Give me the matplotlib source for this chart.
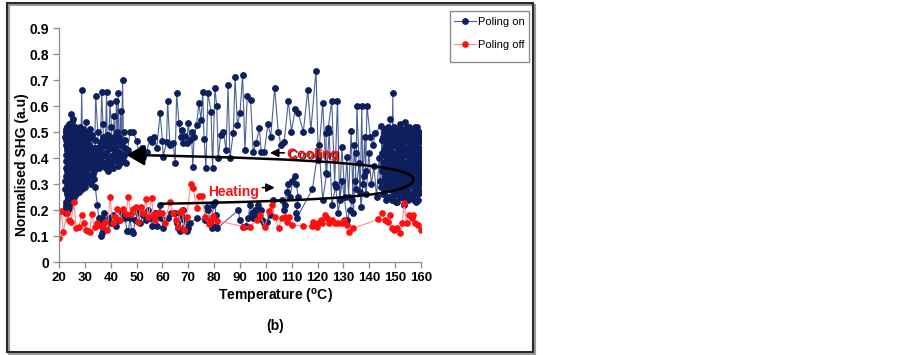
import matplotlib
matplotlib.use('Agg')
import matplotlib.pyplot as plt
from matplotlib.path import Path
from matplotlib.patches import FancyArrowPatch, Rectangle
import matplotlib.patheffects as pe

plt.rcParams['font.family'] = 'Liberation Sans'
plt.rcParams['mathtext.fontset'] = 'custom'
plt.rcParams['mathtext.rm'] = 'Liberation Sans'
plt.rcParams['mathtext.bf'] = 'Liberation Sans:bold'

# ---- Poling on : (temperature degC, normalised SHG) in measuring order ----
# heating, dwell at room temperature
on_heat_start = [(22.4, .31), (22.5, .48), (22.5, .20), (22.6, .50), (22.7, .19), (22.8, .51),
                 (22.9, .22), (23.0, .47), (23.0, .26), (23.1, .52), (23.2, .21), (23.3, .49),
                 (23.4, .24), (23.4, .51), (23.5, .23), (23.6, .45), (23.7, .27), (23.8, .53),
                 (23.9, .22), (24.0, .50), (24.1, .28), (24.2, .49), (24.3, .25), (24.4, .52),
                 (24.5, .30), (24.6, .57), (24.7, .24), (24.8, .48), (24.9, .29), (25.0, .51),
                 (25.1, .26), (25.3, .55), (25.4, .31), (25.6, .49), (25.7, .25), (25.9, .52),
                 (26.0, .30), (26.2, .47), (26.3, .27), (26.5, .50), (26.7, .28), (26.9, .46),
                 (27.1, .31), (27.3, .49), (27.5, .29), (27.8, .51), (28.0, .32), (28.3, .48),
                 (28.5, .28), (28.8, .44), (29.1, .30), (29.4, .47), (29.7, .33), (30.0, .45),
                 (30.4, .31), (30.8, .42), (31.2, .33), (31.7, .40), (32.2, .30), (32.8, .37),
                 (33.4, .32), (34.0, .29), (34.8, .22), (35.4, .17)]
# heating, lower band
on_heat_band = [(35.9, .16), (36.2, .10), (36.5, .11), (36.8, .17), (37.1, .14), (37.5, .19),
                (38.3, .13), (39.2, .17), (40.0, .15), (41.0, .18), (42.0, .14), (43.2, .16),
                (44.5, .19), (45.5, .17), (46.3, .12), (46.8, .12), (47.5, .17), (48.1, .12),
                (48.6, .11), (49.5, .16), (50.5, .19), (51.5, .15), (52.5, .18), (53.5, .16),
                (54.5, .20), (55.2, .17), (56.0, .14), (57.2, .19), (57.8, .14), (58.5, .18),
                (59.1, .22), (59.6, .17), (60.3, .13), (62.0, .17), (63.5, .19), (64.9, .19),
                (65.5, .15), (66.2, .13), (66.8, .12), (67.3, .18), (67.8, .20), (68.3, .16),
                (68.9, .14), (69.5, .12), (70.0, .13), (70.6, .15), (73.5, .17), (76.5, .16),
                (77.1, .21), (77.8, .20), (78.4, .15), (79.0, .13), (79.7, .22), (80.3, .23),
                (80.6, .18), (80.9, .14), (81.2, .13), (89.4, .20), (90.0, .16), (91.3, .135),
                (92.2, .14), (93.2, .17), (93.9, .22), (94.5, .19), (95.1, .17), (95.7, .20),
                (96.2, .18), (96.8, .22), (97.4, .19), (98.0, .20), (98.6, .16), (99.2, .15),
                (100.3, .155), (101.5, .18), (102.6, .24), (106.1, .24), (107.0, .20), (107.5, .22),
                (108.0, .27), (108.7, .30), (109.4, .25), (110.3, .31), (111.3, .33), (111.8, .30),
                (112.5, .25), (112.2, .22), (111.8, .19), (112.0, .17), (118.0, .28), (120.5, .45),
                (122.0, .24), (123.5, .34), (124.5, .50), (125.5, .22), (127.0, .29), (128.0, .19),
                (129.5, .31), (131.5, .16), (132.5, .20), (133.5, .24), (134.2, .45), (135.0, .28),
                (136.0, .38), (136.8, .21), (137.8, .33), (138.8, .26), (139.8, .42), (140.8, .30),
                (141.8, .37), (142.8, .25), (143.8, .40), (144.2, .31)]
# dwell at 145-160 degC (end of heating, start of cooling)
on_hot_cluster = [(144.5, .29), (145.0, .47), (145.4, .26), (145.8, .50), (146.2, .28), (146.6, .45),
                  (147.0, .25), (147.4, .52), (147.8, .30), (148.2, .48), (148.6, .24), (149.1, .65),
                  (149.4, .27), (149.8, .50), (150.2, .23), (150.6, .47), (151.0, .29), (151.4, .51),
                  (151.8, .25), (152.2, .46), (152.6, .28), (153.0, .49), (153.4, .22), (153.8, .54),
                  (154.2, .27), (154.6, .50), (155.0, .24), (155.4, .52), (155.8, .30), (156.2, .47),
                  (156.6, .26), (157.0, .50), (157.4, .29), (157.8, .45), (158.2, .23), (158.6, .49),
                  (159.0, .28), (159.4, .46), (159.8, .30), (160.0, .42), (159.6, .35), (159.2, .50),
                  (158.8, .31), (158.4, .44), (158.0, .27), (157.6, .52), (157.2, .33), (156.8, .41),
                  (156.4, .25), (156.0, .48), (155.5, .32), (155.0, .44), (154.5, .28), (154.0, .50),
                  (153.5, .34), (153.0, .46), (152.5, .27), (152.0, .53), (151.5, .31), (151.0, .44),
                  (150.5, .26), (150.0, .49), (149.5, .33), (149.0, .45), (148.5, .28), (148.0, .55),
                  (147.5, .35), (147.0, .46), (146.5, .30), (146.0, .51), (145.5, .36), (145.0, .42)]
on_hot_cluster2 = [(145.2, .48), (145.6, .27), (146.0, .44), (146.3, .24), (146.7, .50), (147.1, .31),
                   (147.5, .47), (147.9, .25), (148.3, .51), (148.7, .33), (149.0, .46), (149.3, .24),
                   (149.7, .52), (150.1, .29), (150.5, .45), (150.8, .23), (151.2, .49), (151.6, .34),
                   (152.0, .47), (152.3, .25), (152.7, .51), (153.1, .30), (153.5, .44), (153.9, .24),
                   (154.3, .48), (154.7, .32), (155.1, .50), (155.5, .26), (155.9, .45), (156.3, .33),
                   (156.7, .51), (157.1, .24), (157.5, .47), (157.9, .31), (158.3, .52), (158.7, .26),
                   (159.1, .44), (159.5, .33), (159.9, .48), (159.7, .27), (159.3, .41), (158.9, .24),
                   (158.5, .47), (158.1, .35), (157.7, .49), (157.3, .27), (156.9, .44), (156.5, .31),
                   (156.1, .50), (155.7, .25), (155.3, .46), (154.9, .34), (154.5, .52), (154.1, .29),
                   (153.7, .43), (153.3, .26), (152.9, .49), (152.5, .35), (152.1, .45), (151.7, .27),
                   (151.3, .50), (150.9, .33), (150.5, .42), (150.1, .26), (149.7, .47), (149.3, .36),
                   (148.9, .50), (148.5, .30), (148.1, .43), (147.7, .28), (147.3, .49), (146.9, .37),
                   (146.5, .46), (146.1, .32), (145.7, .49), (145.3, .38), (144.9, .47)]
on_hot_mid = [(145.1, .35), (145.5, .41), (145.9, .33), (146.3, .39), (146.7, .36), (147.1, .43),
              (147.5, .31), (147.9, .40), (148.3, .36), (148.7, .42), (149.1, .33), (149.5, .39),
              (149.9, .35), (150.3, .41), (150.7, .31), (151.1, .38), (151.5, .42), (151.9, .34),
              (152.3, .40), (152.7, .36), (153.1, .43), (153.5, .32), (153.9, .38), (154.3, .35),
              (154.7, .42), (155.1, .37), (155.5, .40), (155.9, .33), (156.3, .39), (156.7, .35),
              (157.1, .41), (157.5, .37), (157.9, .34), (158.3, .40), (158.7, .36), (159.1, .42),
              (159.5, .38), (159.9, .34), (159.6, .40), (159.2, .31), (158.8, .37), (158.4, .33),
              (158.0, .41), (157.6, .36), (157.2, .39), (156.8, .32), (156.4, .42), (156.0, .37),
              (155.6, .34), (155.2, .40), (154.8, .31), (154.4, .38), (154.0, .35), (153.6, .41),
              (153.2, .37), (152.8, .33), (152.4, .40), (152.0, .36), (151.6, .42), (151.2, .32),
              (150.8, .39), (150.4, .35), (150.0, .41), (149.6, .37), (149.2, .32), (148.8, .40),
              (148.4, .35), (148.0, .38), (147.6, .42), (147.2, .36), (146.8, .40), (146.4, .34),
              (146.0, .38), (145.6, .43), (145.2, .37)]
# cooling, upper band
on_cool_band = [(144.5, .523), (142.2, .495), (141.5, .45), (140.4, .482), (139.1, .60), (138.6, .35),
                (138.2, .482), (137.5, .30), (137.1, .60), (136.5, .27), (135.2, .60), (135.0, .418),
                (134.5, .31), (133.8, .19), (133.0, .503), (132.0, .25), (131.3, .405), (130.6, .25),
                (129.4, .443), (128.5, .24), (127.7, .62), (126.6, .30), (125.5, .62), (124.1, .514),
                (123.3, .495), (123.3, .341), (122.0, .613), (120.3, .392), (119.4, .736), (117.4, .507),
                (116.2, .661), (114.5, .501), (112.5, .572), (111.4, .59), (109.9, .501), (108.7, .62),
                (107.1, .463), (105.8, .45), (104.8, .501), (103.4, .668), (101.9, .482), (100.8, .53),
                (99.4, .425), (98.2, .425), (97.5, .514), (96.2, .456), (95.1, .425), (94.1, .623),
                (92.8, .638), (91.9, .431), (91.0, .719), (90.0, .574), (89.0, .527), (88.1, .71),
                (87.4, .495), (86.1, .399), (85.4, .679), (84.6, .431), (83.6, .501), (82.5, .488),
                (81.6, .399), (81.0, .60), (80.3, .668), (79.4, .36), (78.8, .578), (77.6, .649),
                (76.8, .36), (76.1, .475), (75.6, .655), (74.9, .546), (74.1, .613), (73.2, .527),
                (72.3, .482), (71.7, .367), (71.3, .501), (70.7, .469), (70.0, .533), (69.4, .456),
                (68.7, .485), (68.1, .456), (67.7, .508), (67.0, .482), (66.4, .533), (65.5, .649),
                (64.9, .38), (64.2, .456), (62.9, .45), (62.0, .619), (61.6, .463), (60.3, .405),
                (60.0, .466), (59.1, .572), (57.8, .44), (56.7, .482), (55.8, .463), (55.2, .475),
                (53.9, .425), (52.6, .405), (52.0, .44), (51.1, .41), (50.0, .467), (48.7, .50),
                (47.5, .50)]
# cooling, back to room temperature
on_cool_end = [(46.5, .43), (46.0, .38), (45.5, .47), (45.0, .41), (44.6, .70), (44.2, .45),
               (43.8, .58), (43.4, .38), (42.9, .65), (42.6, .50), (42.2, .62), (41.8, .40),
               (41.3, .56), (40.8, .36), (40.3, .52), (39.7, .61), (39.2, .44), (38.8, .35),
               (38.4, .655), (38.0, .47), (37.5, .38), (37.0, .53), (36.5, .655), (36.0, .42),
               (35.5, .36), (35.0, .50), (34.2, .64), (33.8, .44), (33.3, .34), (32.8, .49),
               (32.3, .40), (31.8, .51), (31.3, .33), (30.8, .47), (30.4, .54), (30.0, .38),
               (29.6, .50), (29.2, .31), (28.8, .66), (28.4, .42), (28.0, .29), (27.6, .51),
               (27.2, .36), (26.8, .48), (26.4, .27), (26.0, .52), (25.6, .33), (25.2, .49),
               (24.8, .26), (24.4, .53), (24.0, .30), (23.7, .50), (23.4, .25), (23.1, .48),
               (22.8, .21), (22.6, .45), (22.5, .28)]
on_room_dwell = [(22.6, .50), (22.7, .23), (22.8, .47), (22.9, .19), (23.0, .52), (23.1, .27),
                 (23.2, .44), (23.3, .20), (23.4, .49), (23.5, .30), (23.6, .52), (23.7, .22),
                 (23.8, .41), (23.9, .26), (24.0, .48), (24.1, .21), (24.2, .53), (24.3, .34),
                 (24.4, .46), (24.5, .23), (24.6, .50), (24.7, .28), (24.8, .43), (24.9, .25),
                 (25.0, .54), (25.1, .32), (25.2, .47), (25.3, .24), (25.4, .51), (25.5, .29),
                 (25.6, .45), (25.7, .26), (25.8, .50), (25.9, .35), (26.0, .48), (26.1, .27),
                 (26.2, .52), (26.3, .31), (26.4, .44), (26.5, .26), (26.6, .49), (26.8, .33),
                 (26.9, .51), (27.0, .28), (27.2, .46), (27.3, .30), (27.5, .50), (27.6, .27),
                 (27.8, .47), (27.9, .34), (28.1, .52), (28.2, .29), (28.4, .45), (28.6, .31),
                 (28.7, .50), (28.9, .28), (29.0, .47), (29.2, .35), (29.3, .51), (29.5, .30),
                 (29.7, .44), (29.8, .32), (30.0, .49), (30.2, .29), (30.5, .46), (30.7, .34),
                 (31.0, .50), (31.3, .31), (31.6, .45), (31.9, .36), (32.3, .48), (32.6, .33),
                 (33.0, .44), (33.4, .35), (33.8, .47), (34.3, .36), (34.8, .43), (35.3, .38),
                 (35.8, .46), (36.3, .39), (36.9, .48), (37.4, .41), (38.0, .36), (38.5, .45),
                 (39.0, .49), (39.5, .38), (40.0, .44), (40.6, .47), (41.1, .39), (41.6, .46),
                 (42.1, .43), (42.7, .37), (43.2, .48), (43.7, .42), (44.3, .46), (44.9, .39),
                 (45.4, .44), (45.0, .50), (44.4, .40), (43.9, .45), (43.3, .41), (42.8, .47),
                 (42.3, .39), (41.7, .44), (41.2, .48), (40.7, .41), (40.2, .37), (39.6, .46),
                 (39.1, .40), (38.6, .49), (38.1, .42), (37.6, .45), (37.0, .37), (36.4, .44),
                 (35.9, .40)]
on_room_mid = [(35.0, .40), (34.6, .44), (34.1, .38), (33.6, .42), (33.2, .40), (32.8, .44),
               (32.4, .39), (32.0, .42), (31.7, .37), (31.4, .44), (31.1, .39), (30.9, .42),
               (30.6, .38), (30.4, .44), (30.2, .40), (30.0, .35), (29.8, .42), (29.6, .39),
               (29.5, .44), (29.3, .36), (29.1, .41), (29.0, .38), (28.8, .43), (28.7, .34),
               (28.5, .40), (28.3, .37), (28.2, .42), (28.0, .35), (27.9, .39), (27.7, .44),
               (27.6, .36), (27.4, .41), (27.3, .34), (27.1, .38), (27.0, .43), (26.9, .35),
               (26.8, .40), (26.7, .31), (26.6, .37), (26.5, .42), (26.4, .33), (26.3, .40),
               (26.2, .36), (26.1, .44), (26.0, .39), (25.9, .30), (25.8, .41), (25.7, .34),
               (25.6, .38), (25.5, .43), (25.4, .36), (25.3, .39), (25.2, .33), (25.1, .41),
               (25.0, .37), (24.9, .44), (24.8, .35), (24.7, .39), (24.6, .31), (24.5, .42),
               (24.4, .36), (24.3, .40), (24.2, .33), (24.1, .45), (24.0, .38), (23.9, .31),
               (23.8, .42), (23.7, .34), (23.6, .37), (23.5, .44), (23.4, .32), (23.3, .40),
               (23.2, .35), (23.1, .43), (23.0, .30), (22.9, .39), (22.8, .33), (22.7, .41),
               (22.6, .36)]

# ---- Poling off ----
poling_off = [(20.0, .094), (20.8, .198), (21.7, .115), (23.0, .187), (23.7, .162), (24.6, .153),
              (25.8, .231), (26.6, .130), (27.6, .133), (28.8, .182), (29.7, .151), (30.4, .123),
              (31.2, .120), (32.0, .117), (32.6, .183), (33.9, .133), (34.6, .151), (35.3, .142),
              (36.5, .138), (37.9, .155), (38.7, .123), (39.7, .249), (40.8, .149), (41.7, .174),
              (42.6, .202), (43.6, .162), (44.6, .202), (45.9, .183), (46.8, .251), (47.7, .185),
              (48.7, .202), (49.6, .213), (50.7, .155), (51.6, .213), (52.6, .187), (53.6, .241),
              (54.5, .174), (55.8, .245), (56.5, .180), (57.1, .162), (58.0, .187), (58.8, .187),
              (59.8, .187), (60.9, .149), (62.9, .231), (64.0, .187), (65.2, .162), (66.1, .136),
              (66.8, .194), (67.7, .200), (68.5, .123), (69.4, .174), (70.9, .299), (71.9, .286),
              (73.2, .206), (74.3, .255), (75.3, .254), (76.5, .174), (77.9, .145), (78.6, .162),
              (79.4, .177), (81.2, .159), (91.3, .136), (93.9, .136), (96.4, .162), (97.7, .181),
              (99.6, .136), (101.3, .197), (102.5, .219), (103.5, .174), (104.9, .130), (106.1, .168),
              (107.4, .174), (108.3, .155), (109.1, .174), (110.0, .142), (114.5, .139), (117.7, .139),
              (118.3, .155), (119.6, .136), (120.3, .149), (121.2, .162), (121.9, .149), (122.9, .181),
              (123.8, .168), (124.5, .149), (125.4, .162), (126.7, .149), (128.0, .151), (129.3, .149),
              (130.3, .162), (131.2, .142), (132.0, .117), (133.8, .130), (143.5, .164), (144.8, .187),
              (146.1, .162), (147.1, .155), (148.0, .181), (148.6, .130), (149.5, .123), (150.6, .130),
              (151.9, .110), (152.8, .151), (153.5, .226), (154.4, .149), (155.5, .181), (156.4, .168),
              (157.0, .181), (157.7, .149), (158.7, .142), (160.0, .123)]

poling_on = (on_heat_start + on_heat_band + on_hot_cluster + on_hot_cluster2 + on_hot_mid +
             on_cool_band + on_cool_end + on_room_dwell + on_room_mid)
T_on = [p[0] for p in poling_on]
v_on = [p[1] for p in poling_on]
T_off = [p[0] for p in poling_off]
v_off = [p[1] for p in poling_off]

W, H = 903, 355
fig = plt.figure(figsize=(W / 100, H / 100), dpi=100)
ax = fig.add_axes([59 / W, 1 - 262 / H, (421 - 59) / W, (262 - 28) / H])

navy = '#0d1f5c'
ax.plot(T_on, v_on, color='#4d6196', lw=0.8, marker='o', ms=3.9,
        mfc=navy, mec=navy, label='Poling on')
ax.plot(T_off, v_off, color='#ff8a8a', lw=0.8, marker='o', ms=3.8,
        mfc='#ff1010', mec='#ff1010', label='Poling off')

ax.set_xlim(20, 160)
ax.set_ylim(0, 0.9)
ax.set_xticks(range(20, 161, 10))
ax.set_yticks([i / 10 for i in range(10)])
ax.set_yticklabels(['0'] + ['%.1f' % (i / 10) for i in range(1, 10)])
for sp in ['top', 'right']:
    ax.spines[sp].set_visible(False)
for sp in ['left', 'bottom']:
    ax.spines[sp].set_color('#8c8c8c')
    ax.spines[sp].set_linewidth(0.9)
ax.tick_params(axis='both', direction='out', length=4, color='#8c8c8c', width=0.9)
ax.tick_params(axis='x', labelsize=9.5, pad=3)
ax.tick_params(axis='y', labelsize=10, pad=3)
for lab in ax.get_xticklabels() + ax.get_yticklabels():
    lab.set_fontweight('bold')

# heating / cooling loop arrow
loop = Path([(59, 0.224), (125, 0.235), (157, 0.255), (157, 0.318),
             (157, 0.37), (125, 0.397), (46, 0.412)],
            [Path.MOVETO, Path.CURVE4, Path.CURVE4, Path.CURVE4,
             Path.CURVE4, Path.CURVE4, Path.CURVE4])
ax.add_patch(FancyArrowPatch(path=loop, arrowstyle='-|>,head_length=0.8,head_width=0.45',
                             mutation_scale=14, lw=1.8, color='black', zorder=5))

ax.annotate('', xy=(100.5, 0.42), xytext=(108.2, 0.42),
            arrowprops=dict(arrowstyle='-|>,head_length=0.5,head_width=0.25', color='black', lw=1.2),
            zorder=6)
ax.annotate('', xy=(104.5, 0.286), xytext=(97.6, 0.286),
            arrowprops=dict(arrowstyle='-|>,head_length=0.5,head_width=0.25', color='black', lw=1.2),
            zorder=6)
ax.text(118.2, 0.415, 'Cooling', color='#ff1010', fontsize=10, fontweight='bold',
        ha='center', va='center', zorder=7,
        path_effects=[pe.withSimplePatchShadow(offset=(1, -1), shadow_rgbFace='#300000', alpha=0.8)])
ax.text(87.7, 0.27, 'Heating', color='#ff1010', fontsize=10, fontweight='bold',
        ha='center', va='center', zorder=7)

# legend without its own frame, boxed like the reference
ax.legend(loc='upper left', bbox_to_anchor=(454 / W, 1 - 17 / H), bbox_transform=fig.transFigure,
          fontsize=8, frameon=False, handlelength=2.0, handletextpad=0.15,
          labelspacing=1.15, borderpad=0, borderaxespad=0)
fig.patches.append(Rectangle((450 / W, 1 - 62 / H), 79 / W, 51 / H, transform=fig.transFigure,
                             facecolor='none', edgecolor='#8c8c8c', lw=1.0))

fig.text(22 / W, 1 - 165 / H, 'Normalised SHG (a.u)', rotation=90, ha='center', va='center',
         fontsize=10, fontweight='bold')
fig.text(275 / W, 1 - 296 / H, r'Temperature ($\mathbf{^o}$C)', ha='center', va='center',
         fontsize=10, fontweight='bold')
fig.text(275.5 / W, 1 - 326 / H, '(b)', ha='center', va='center', fontsize=10, fontweight='bold')

# outer frame with shadow
fig.patches.append(Rectangle((9 / W, 1 - 354 / H), 526 / W, 349 / H, transform=fig.transFigure,
                             facecolor='none', edgecolor='#9a9a9a', lw=1.5))
fig.patches.append(Rectangle((7 / W, 1 - 352 / H), 526 / W, 349 / H, transform=fig.transFigure,
                             facecolor='none', edgecolor='#2a2a2a', lw=1.5))

fig.savefig('out.png', dpi=100)
